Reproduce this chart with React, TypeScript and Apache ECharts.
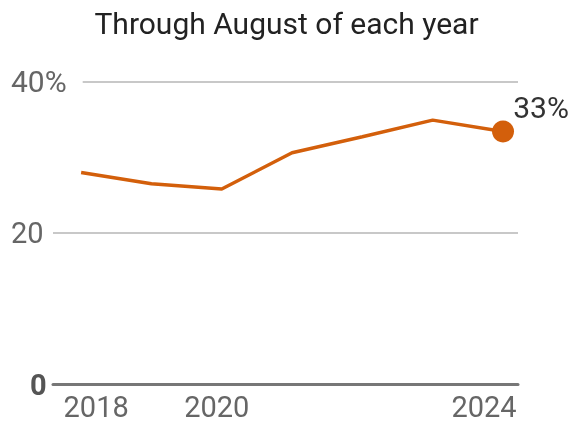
import React, { useEffect, useRef } from "react";
import * as echarts from "echarts";

const years = [2018, 2019, 2020, 2021, 2022, 2023, 2024];
const shares = [28.0, 26.5, 25.8, 30.6, 32.7, 34.9, 33.4];
const xTickLabels = [2018, 2020, 2024];
const yTicks = [0, 20, 40];
const title = "Through August of each year";

export default function App() {
  const ref = useRef<HTMLDivElement>(null);
  useEffect(() => {
    const chart = echarts.init(ref.current!, null, { renderer: "svg" });
    const font = "Roboto, 'Noto Sans', sans-serif";
    const data = years.map((y, i) => {
      const last = i === years.length - 1;
      if (!last) return [y, shares[i]];
      return {
        value: [y, shares[i]],
        symbol: "circle",
        symbolSize: 22,
        label: {
          show: true,
          position: "top",
          distance: 0,
          offset: [38, 2],
          formatter: (p: any) => Math.round(p.value[1]) + "%",
          fontFamily: font,
          fontSize: 30,
          color: "#333",
        },
      };
    });
    chart.setOption({
      animation: false,
      title: {
        text: title,
        left: "center",
        top: 3,
        textStyle: { fontFamily: font, fontSize: 30, fontWeight: "normal", color: "#222" },
      },
      grid: { left: 53, right: 55, top: 81.5, bottom: 40.5, containLabel: false },
      xAxis: {
        type: "value",
        min: 2017.6,
        max: 2024.213,
        splitLine: { show: false },
        axisTick: { show: false },
        axisLine: { show: true, lineStyle: { color: "#777", width: 3 } },
        axisLabel: {
          customValues: xTickLabels,
          margin: 8,
          fontFamily: font,
          fontSize: 29,
          color: "#666",
          formatter: (v: number) => {
            if (v === 2018) return "{a|" + v + "}";
            if (v === 2020) return "{b|" + v + "}";
            return "{c|" + v + "}";
          },
          rich: {
            a: { fontFamily: font, fontSize: 29, color: "#666", padding: [0, 0, 0, 30] },
            b: { fontFamily: font, fontSize: 29, color: "#666", padding: [0, 10, 0, 0] },
            c: { fontFamily: font, fontSize: 29, color: "#666", padding: [0, 38, 0, 0] },
          },
        },
      },
      yAxis: {
        type: "value",
        min: 0,
        max: 40,
        interval: 20,
        axisLine: { show: false },
        axisTick: { show: false },
        splitLine: { show: true, lineStyle: { color: "#c8c8c8", width: 2 } },
        axisLabel: {
          align: "left",
          margin: 42,
          formatter: (v: number) => {
            if (v === 0) return "{z|0}";
            if (v === 40) return "{f|" + v + "%}";
            return "{t|" + v + "}";
          },
          rich: {
            z: { fontFamily: font, fontSize: 29, fontWeight: "bold", color: "#555", padding: [0, 0, 0, 19] },
            f: { fontFamily: font, fontSize: 30, color: "#666", backgroundColor: "#fff", padding: [0, 16, 0, 0] },
            t: { fontFamily: font, fontSize: 29, color: "#666", backgroundColor: "#fff", padding: [0, 5, 0, 0] },
          },
        },
      },
      series: [
        {
          type: "line",
          data,
          symbol: "none",
          lineStyle: { color: "#d35f0b", width: 3.5 },
          itemStyle: { color: "#d35f0b" },
          z: 5,
        },
      ],
    });
    return () => chart.dispose();
  }, []);
  return (
    <div
      ref={ref}
      style={{ position: "fixed", left: 0, top: 0, width: 573, height: 425 }}
    />
  );
}
